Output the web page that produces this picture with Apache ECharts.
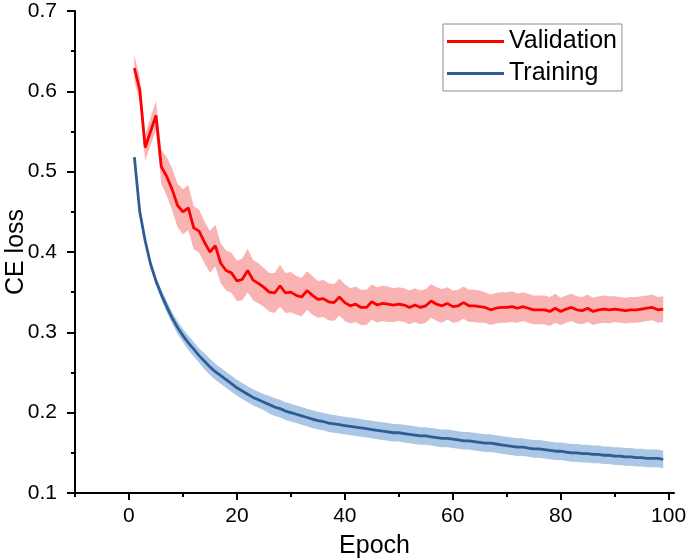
<!DOCTYPE html>
<html><head><meta charset="utf-8">
<script src="https://cdn.jsdelivr.net/npm/echarts@6/dist/echarts.min.js"></script>
<style>html,body{margin:0;padding:0;background:#fff}#c{width:688px;height:560px}</style>
</head><body><div id="c"></div>
<script>
const epochs = [1,2,3,4,5,6,7,8,9,10,11,12,13,14,15,16,17,18,19,20,21,22,23,24,25,26,27,28,29,30,31,32,33,34,35,36,37,38,39,40,41,42,43,44,45,46,47,48,49,50,51,52,53,54,55,56,57,58,59,60,61,62,63,64,65,66,67,68,69,70,71,72,73,74,75,76,77,78,79,80,81,82,83,84,85,86,87,88,89,90,91,92,93,94,95,96,97,98,99];
const valMean = [0.629,0.602,0.530,0.550,0.570,0.506,0.494,0.478,0.458,0.450,
  0.455,0.430,0.426,0.412,0.400,0.408,0.386,0.377,0.374,0.364,
  0.366,0.377,0.365,0.361,0.356,0.350,0.349,0.358,0.349,0.350,
  0.346,0.344,0.352,0.346,0.341,0.342,0.338,0.337,0.344,0.337,
  0.333,0.335,0.331,0.331,0.338,0.334,0.336,0.335,0.334,0.335,
  0.334,0.331,0.334,0.331,0.333,0.339,0.335,0.333,0.336,0.332,
  0.333,0.337,0.333,0.333,0.332,0.331,0.328,0.330,0.331,0.331,
  0.332,0.330,0.332,0.330,0.328,0.328,0.328,0.326,0.330,0.326,
  0.329,0.331,0.328,0.327,0.330,0.326,0.328,0.329,0.328,0.329,
  0.328,0.327,0.328,0.328,0.329,0.330,0.331,0.328,0.329];
const valStd = [0.016,0.016,0.016,0.017,0.018,0.021,0.024,0.026,0.027,0.028,
  0.028,0.027,0.027,0.026,0.026,0.026,0.025,0.025,0.025,0.025,
  0.026,0.027,0.025,0.025,0.024,0.024,0.025,0.026,0.025,0.025,
  0.024,0.024,0.024,0.024,0.023,0.023,0.023,0.023,0.023,0.023,
  0.022,0.022,0.022,0.022,0.022,0.022,0.022,0.022,0.021,0.021,
  0.021,0.021,0.021,0.021,0.021,0.021,0.021,0.021,0.020,0.020,
  0.020,0.020,0.020,0.020,0.020,0.019,0.019,0.019,0.019,0.019,
  0.019,0.018,0.018,0.018,0.018,0.018,0.018,0.018,0.018,0.017,
  0.017,0.017,0.017,0.017,0.017,0.017,0.017,0.017,0.017,0.016,
  0.016,0.016,0.016,0.016,0.016,0.016,0.016,0.016,0.016];
const trainMean = [0.518,0.450,0.414,0.385,0.364,0.347,0.332,0.318,0.306,0.296,
  0.287,0.279,0.271,0.264,0.257,0.251,0.246,0.241,0.236,0.231,
  0.227,0.223,0.219,0.216,0.213,0.210,0.207,0.205,0.202,0.200,
  0.198,0.196,0.194,0.192,0.190,0.189,0.187,0.186,0.185,0.184,
  0.183,0.182,0.181,0.180,0.179,0.178,0.177,0.176,0.175,0.175,
  0.174,0.173,0.172,0.171,0.171,0.170,0.169,0.168,0.168,0.167,
  0.166,0.165,0.165,0.164,0.163,0.162,0.162,0.161,0.160,0.159,
  0.158,0.157,0.157,0.156,0.155,0.155,0.154,0.153,0.152,0.152,
  0.151,0.150,0.150,0.149,0.149,0.148,0.148,0.147,0.147,0.146,
  0.146,0.145,0.145,0.144,0.144,0.143,0.143,0.143,0.142];
const trainStd = [0.001,0.002,0.003,0.004,0.005,0.006,0.007,0.007,0.008,0.008,
  0.009,0.009,0.009,0.010,0.010,0.010,0.010,0.010,0.010,0.010,
  0.010,0.010,0.010,0.010,0.010,0.011,0.011,0.011,0.011,0.011,
  0.011,0.011,0.011,0.011,0.011,0.011,0.011,0.011,0.011,0.011,
  0.011,0.011,0.011,0.011,0.011,0.011,0.011,0.011,0.011,0.011,
  0.011,0.011,0.011,0.011,0.011,0.011,0.011,0.011,0.011,0.011,
  0.011,0.011,0.011,0.011,0.011,0.011,0.011,0.011,0.011,0.011,
  0.011,0.011,0.011,0.011,0.011,0.011,0.011,0.011,0.011,0.011,
  0.011,0.011,0.011,0.011,0.011,0.011,0.011,0.011,0.011,0.011,
  0.011,0.011,0.011,0.011,0.011,0.011,0.011,0.011,0.011];
const xMajorTicks = [0,20,40,60,80,100];
const xMinorTicks = [-10,10,30,50,70,90];
const seriesNames = ['Validation','Training'];

const FONT = "'Liberation Sans', Arial, sans-serif";
const RED = '#ff0000', RED_BAND = '#f9b3b3';
const BLUE = '#2e5d95', BLUE_BAND = '#aac7e6';

function bandSeries(mean, std, color) {
  return {
    type: 'custom', silent: true, z: 1, xAxisIndex: 0, yAxisIndex: 0,
    data: epochs.map((e, i) => [e, mean[i] - std[i], mean[i] + std[i]]),
    encode: { x: 0, y: [1, 2] },
    renderItem: function (params, api) {
      if (params.dataIndex !== 0) return null;
      const pts = [];
      for (let i = 0; i < epochs.length; i++) pts.push(api.coord([epochs[i], mean[i] + std[i]]));
      for (let i = epochs.length - 1; i >= 0; i--) pts.push(api.coord([epochs[i], mean[i] - std[i]]));
      return { type: 'polygon', shape: { points: pts }, style: { fill: color } };
    }
  };
}

const chart = echarts.init(document.getElementById('c'), null, { renderer: 'canvas' });
chart.setOption({
  animation: false,
  backgroundColor: '#fff',
  textStyle: { fontFamily: FONT },
  grid: { left: 75, right: 14, top: 11, bottom: 67, containLabel: false, outerBoundsMode: 'none' },
  legend: {
    orient: 'vertical', left: 443, top: 24,
    data: [{ name: seriesNames[0], icon: 'rect' }, { name: seriesNames[1], icon: 'rect' }],
    itemWidth: 57, itemHeight: 3, itemGap: 7,
    padding: [5, 5, 5, 4],
    borderColor: '#8c8c8c', borderWidth: 1,
    textStyle: { fontSize: 25, color: '#000', fontFamily: FONT }
  },
  xAxis: [{
    type: 'value', min: -10, max: 101, position: 'bottom',
    axisLine: { show: true, onZero: false, lineStyle: { color: '#000', width: 2 } },
    axisTick: { show: true, length: 7, customValues: xMajorTicks, lineStyle: { color: '#000', width: 2 } },
    axisLabel: { customValues: xMajorTicks, fontSize: 21, color: '#000', margin: 13, fontFamily: FONT },
    splitLine: { show: false },
    name: 'Epoch', nameLocation: 'middle', nameGap: 41, nameMoveOverlap: false,
    nameTextStyle: { fontSize: 25, color: '#000', fontFamily: FONT }
  }, {
    type: 'value', min: -10, max: 101, position: 'bottom',
    axisLine: { show: false, onZero: false },
    axisTick: { show: true, length: 4, customValues: xMinorTicks, lineStyle: { color: '#000', width: 2 } },
    axisLabel: { show: false },
    splitLine: { show: false }
  }],
  yAxis: {
    type: 'value', min: 0.1, max: 0.7, interval: 0.1,
    axisLine: { show: true, onZero: false, lineStyle: { color: '#000', width: 2 } },
    axisTick: { show: true, length: 8, lineStyle: { color: '#000', width: 2 } },
    minorTick: { show: true, splitNumber: 2, length: 4, lineStyle: { color: '#000', width: 2 } },
    axisLabel: { fontSize: 21, color: '#000', margin: 10, padding: [0, 8, 0, 0], align: 'right',
      fontFamily: FONT, formatter: v => v.toFixed(1) },
    splitLine: { show: false }, minorSplitLine: { show: false },
    name: 'CE loss', nameLocation: 'middle', nameGap: 46, nameMoveOverlap: false,
    nameTextStyle: { fontSize: 25, color: '#000', fontFamily: FONT }
  },
  series: [
    bandSeries(valMean, valStd, RED_BAND),
    bandSeries(trainMean, trainStd, BLUE_BAND),
    {
      name: seriesNames[0], type: 'line', z: 3, showSymbol: false, symbol: 'none',
      data: epochs.map((e, i) => [e, valMean[i]]),
      lineStyle: { color: RED, width: 2.8 }, itemStyle: { color: RED }
    },
    {
      name: seriesNames[1], type: 'line', z: 3, showSymbol: false, symbol: 'none',
      data: epochs.map((e, i) => [e, trainMean[i]]),
      lineStyle: { color: BLUE, width: 2.8 }, itemStyle: { color: BLUE }
    }
  ]
});
</script></body></html>
